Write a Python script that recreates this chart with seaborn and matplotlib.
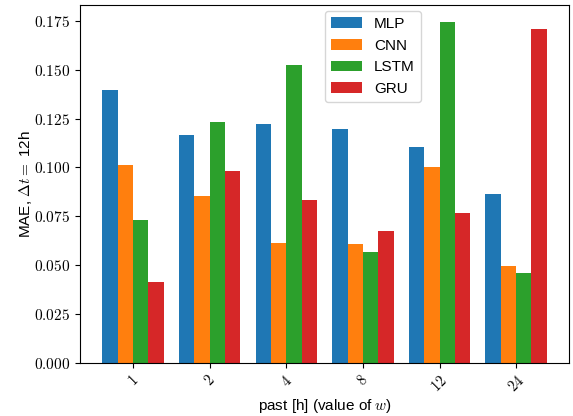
import matplotlib
matplotlib.use("Agg")
import matplotlib.pyplot as plt
import seaborn as sns
import pandas as pd
from matplotlib.ticker import FuncFormatter

# past window sizes [h] and MAE per model (dt = 12h)
past = ["1", "2", "4", "8", "12", "24"]
models = ["MLP", "CNN", "LSTM", "GRU"]
mae_mlp = [0.1396, 0.1165, 0.1221, 0.1196, 0.1103, 0.0862]
mae_cnn = [0.1011, 0.0852, 0.0611, 0.0606, 0.1001, 0.0493]
mae_lstm = [0.0729, 0.1232, 0.1524, 0.0565, 0.1745, 0.0462]
mae_gru = [0.0416, 0.0980, 0.0831, 0.0677, 0.0765, 0.1709]

rows = []
for name, vals in zip(models, [mae_mlp, mae_cnn, mae_lstm, mae_gru]):
    for p, v in zip(past, vals):
        rows.append({"past": p, "model": name, "mae": v})
df = pd.DataFrame(rows)

plt.rcParams["font.family"] = ["Liberation Sans", "DejaVu Sans"]
plt.rcParams["mathtext.fontset"] = "cm"

fig, ax = plt.subplots(figsize=(5.73, 4.16), dpi=100)
sns.barplot(data=df, x="past", y="mae", hue="model", order=past, hue_order=models,
            palette="tab10", saturation=1, linewidth=0, ax=ax)

ax.set_xlim(-0.69, len(past) - 1 + 0.69)
ax.set_ylim(0, max(df["mae"]) * 1.05)
ax.yaxis.set_major_formatter(FuncFormatter(lambda v, _: f"${v:.3f}$"))
ax.set_xticks(range(len(past)))
ax.set_xticklabels([f"${p}$" for p in past], rotation=45, fontsize=10.5)
ax.tick_params(axis="y", labelsize=11)

ax.set_xlabel(r"past [h] (value of $w$)", fontsize=11, labelpad=2)
ax.set_ylabel(r"MAE, $\Delta t =$ 12h", fontsize=11, labelpad=0)

sns.move_legend(ax, "upper left", bbox_to_anchor=(0.485, 1.005), title=None,
                fontsize=11, frameon=True)

plt.subplots_adjust(left=0.14, right=0.993, top=0.988, bottom=0.128)
plt.savefig("out.png", dpi=100)
